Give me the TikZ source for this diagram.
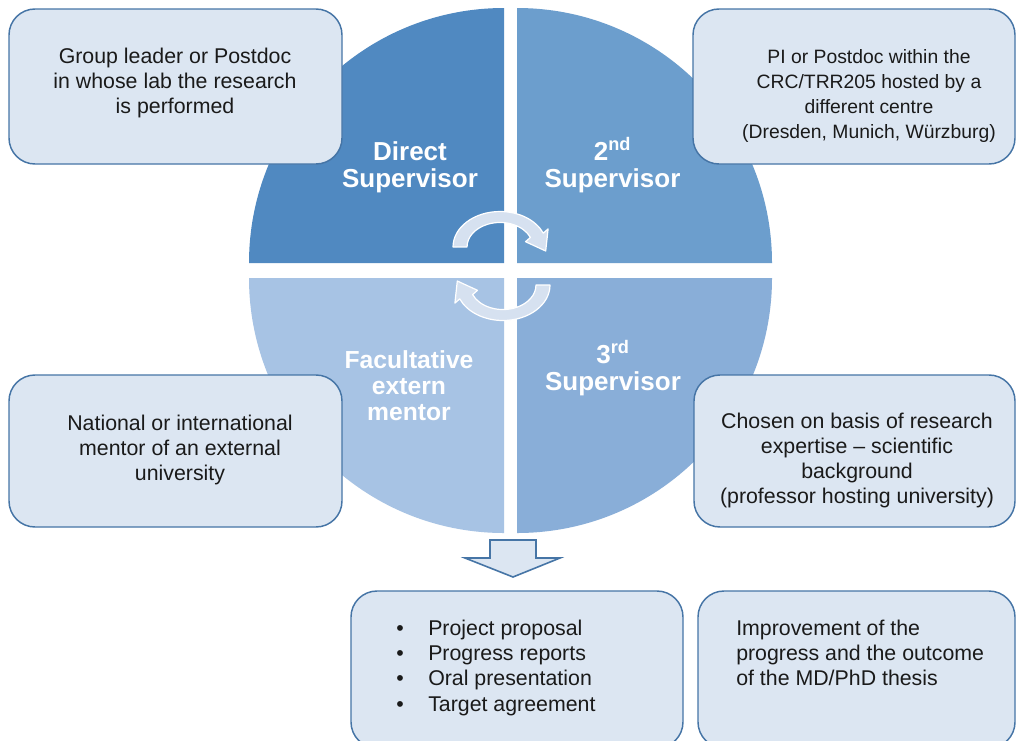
\documentclass[tikz,border=0pt]{standalone}
\usepackage{fontspec}
\setmainfont{Liberation Sans}
\definecolor{QTL}{HTML}{5089C1}
\definecolor{QTR}{HTML}{6C9ECD}
\definecolor{QBR}{HTML}{89AED8}
\definecolor{QBL}{HTML}{A7C3E4}
\definecolor{BoxFill}{HTML}{DCE6F2}
\definecolor{BoxLine}{HTML}{4675A6}
\definecolor{ArrFill}{HTML}{D6E1F0}
\definecolor{TextCol}{HTML}{1A1A1A}
\newcommand\fstrut{\rule{0pt}{14pt}}
\newcommand\lstrut{\rule{0pt}{19pt}}
\begin{document}
\begin{tikzpicture}[x=0.75pt,y=-0.75pt,
  box/.style={draw=BoxLine, fill=BoxFill, line width=1.1pt, rounded corners=19.5pt, inner sep=0pt},
  txt/.style={anchor=north, inner sep=0pt, align=center, text=TextCol, font=\fontsize{16}{18.75}\selectfont},
  txtl/.style={anchor=north west, inner sep=0pt, align=left, text=TextCol, font=\fontsize{16}{19}\selectfont},
  lbl/.style={anchor=north, inner sep=0pt, align=center, text=white, font=\bfseries\fontsize{19.5}{20.5}\selectfont},
  carrow/.style={fill=ArrFill, draw=white, line width=0.9pt, line join=round},
  darrow/.style={fill=BoxFill, draw=BoxLine, line width=1.2pt}]
\useasboundingbox (0,0) rectangle (1017,740);
\clip (0,0) rectangle (1017,740);
\fill[white] (0,0) rectangle (1017,740);
% quadrants
\fill[QTL] (504,263) -- (249,263) arc[start angle=180, end angle=270, radius=255] -- cycle;
\fill[QTR] (517,263) -- (517,8) arc[start angle=270, end angle=360, radius=255] -- cycle;
\fill[QBR] (517,278) -- (772,278) arc[start angle=0, end angle=90, radius=255] -- cycle;
\fill[QBL] (504,278) -- (504,533) arc[start angle=90, end angle=180, radius=255] -- cycle;
% boxes
\node[box, minimum width=249.75pt, minimum height=116.25pt] (b1) at (175.5,86.5) {};
\node[box, minimum width=241.5pt, minimum height=116.25pt] (b2) at (854,86.5) {};
\node[box, minimum width=249.75pt, minimum height=114pt] (b3) at (175.5,451) {};
\node[box, minimum width=240.75pt, minimum height=114pt] (b4) at (854.5,451) {};
\node[box, minimum width=249pt, minimum height=117.75pt] (b5) at (517,669.5) {};
\node[box, minimum width=237.75pt, minimum height=117.75pt] (b6) at (856.5,669.5) {};
% box texts
\node[txt] (t1) at (175,44.3) {\fstrut Group leader or Postdoc\\in whose lab the research\\is performed};
\node[txt, font=\fontsize{14.5}{18.75}\selectfont] (t2) at (869,44.3) {\fstrut PI or Postdoc within the\\CRC/TRR205 hosted by a\\different centre\\(Dresden, Munich, Würzburg)};
\node[txt] (t3) at (180,411.3) {\fstrut National or international\\mentor of an external\\university};
\node[txt] (t4) at (857,409.3) {\fstrut Chosen on basis of research\\expertise – scientific\\background\\(professor hosting university)};
\node[txtl] (t5) at (428,616.3) {\fstrut\llap{\makebox[24pt][l]{•}}Project proposal\\\llap{\makebox[24pt][l]{•}}Progress reports\\\llap{\makebox[24pt][l]{•}}Oral presentation\\\llap{\makebox[24pt][l]{•}}Target agreement};
\node[txtl] (t6) at (736,616.3) {\fstrut Improvement of the\\progress and the outcome\\of the MD/PhD thesis};
% quadrant labels
\node[lbl] (l1) at (410,134.7) {\lstrut Direct\\Supervisor};
\node[lbl] (l2) at (612.5,134.7) {\lstrut 2\textsuperscript{nd}\\Supervisor};
\node[lbl] (l3) at (613,337.7) {\lstrut 3\textsuperscript{rd}\\Supervisor};
\node[lbl, font=\bfseries\fontsize{18.5}{19.5}\selectfont] (l4) at (409,342.7) {\lstrut Facultative\\extern\\mentor};
% circular arrows
\path[carrow] (453,247) arc[start angle=180, end angle=337, x radius=47, y radius=35.5]
  -- (548.1,228.9) -- (545.7,251.0) -- (525.5,241.7) -- (530.4,237.4)
  arc[start angle=337, end angle=180, x radius=33, y radius=24.5] -- cycle;
\begin{scope}[rotate around={180:(501.5,266)}]
\path[carrow] (453,247) arc[start angle=180, end angle=337, x radius=47, y radius=35.5]
  -- (548.1,228.9) -- (545.7,251.0) -- (525.5,241.7) -- (530.4,237.4)
  arc[start angle=337, end angle=180, x radius=33, y radius=24.5] -- cycle;
\end{scope}
% down arrow
\draw[darrow] (490,540) -- (536,540) -- (536,558) -- (560,558) -- (513,577) -- (465,558) -- (490,558) -- cycle;
\end{tikzpicture}
\end{document}
